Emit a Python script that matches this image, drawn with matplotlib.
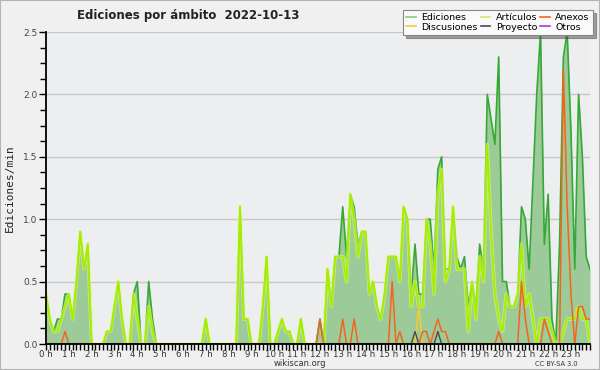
import matplotlib
matplotlib.use("Agg")
import matplotlib.pyplot as plt
from matplotlib.patches import Rectangle
from matplotlib.lines import Line2D
import numpy as np

title = "Ediciones por ámbito  2022-10-13"
ylabel = "Ediciones/min"
hour_labels = [f"{h} h" for h in range(24)]

ediciones = [0.4, 0.2, 0.1, 0.2, 0.2, 0.4, 0.4, 0.2, 0.5, 0.9, 0.6, 0.8,
             0, 0, 0, 0, 0.1, 0.1, 0.3, 0.5, 0.2, 0, 0, 0.4,
             0.5, 0, 0, 0.5, 0.2, 0, 0, 0, 0, 0, 0, 0,
             0, 0, 0, 0, 0, 0, 0.2, 0, 0, 0, 0, 0,
             0, 0, 0, 1.1, 0.2, 0.2, 0, 0, 0, 0.3, 0.7, 0,
             0, 0.1, 0.2, 0.1, 0.1, 0, 0, 0.2, 0, 0, 0, 0,
             0.2, 0, 0.6, 0.3, 0.7, 0.7, 1.1, 0.7, 1.2, 1.1, 0.8, 0.9,
             0.9, 0.4, 0.5, 0.3, 0.2, 0.4, 0.7, 0.7, 0.7, 0.5, 1.1, 1.0,
             0.4, 0.8, 0.4, 0.4, 1.0, 1.0, 0.6, 1.4, 1.5, 0.6, 0.6, 1.1,
             0.7, 0.6, 0.7, 0.3, 0.5, 0.3, 0.8, 0.6, 2.0, 1.8, 1.6, 2.3,
             0.5, 0.5, 0.3, 0.3, 0.4, 1.1, 1.0, 0.6, 1.3, 2.0, 2.5, 0.8,
             1.2, 0.2, 0, 0.8, 2.3, 2.5, 1.7, 0.6, 2.0, 1.5, 0.7, 0.6]

articulos = [0.4, 0.2, 0.1, 0.1, 0.2, 0.3, 0.4, 0.2, 0.5, 0.9, 0.6, 0.8,
             0, 0, 0, 0, 0.1, 0.1, 0.3, 0.5, 0.2, 0, 0, 0.4,
             0.2, 0, 0, 0.3, 0.1, 0, 0, 0, 0, 0, 0, 0,
             0, 0, 0, 0, 0, 0, 0.2, 0, 0, 0, 0, 0,
             0, 0, 0, 1.1, 0.2, 0.2, 0, 0, 0, 0.3, 0.7, 0,
             0, 0.1, 0.2, 0.1, 0.1, 0, 0, 0.2, 0, 0, 0, 0,
             0, 0, 0.6, 0.3, 0.7, 0.7, 0.7, 0.5, 1.2, 1.0, 0.7, 0.9,
             0.9, 0.4, 0.5, 0.3, 0.2, 0.4, 0.7, 0.7, 0.7, 0.5, 1.1, 1.0,
             0.3, 0.5, 0.3, 0.3, 1.0, 0.8, 0.4, 1.2, 1.4, 0.5, 0.6, 1.1,
             0.6, 0.6, 0.6, 0.1, 0.5, 0.2, 0.7, 0.5, 1.6, 0.9, 0.4, 0.2,
             0.1, 0.4, 0.3, 0.3, 0.4, 0.8, 0.3, 0.4, 0.2, 0, 0.2, 0.2,
             0.2, 0.1, 0, 0, 0.1, 0.2, 0.2, 0.2, 0.3, 0.2, 0.2, 0]

anexos = [0] * 144
for k, v in {5: 0.1, 72: 0.2, 78: 0.2, 81: 0.2, 91: 0.5, 93: 0.1, 99: 0.1, 100: 0.1,
             102: 0.1, 103: 0.2, 104: 0.1, 105: 0.1, 119: 0.1, 125: 0.5, 126: 0.2,
             131: 0.2, 132: 0.1, 136: 2.2, 137: 1.1, 138: 0.4, 140: 0.3, 141: 0.3,
             142: 0.2, 143: 0.2}.items():
    anexos[k] = v
discusiones = [0] * 144
discusiones[98] = 0.3
proyecto = [0] * 144
proyecto[97] = 0.1
proyecto[103] = 0.1
otros = [0] * 144

x = np.arange(len(ediciones))

fig = plt.figure(figsize=(6.0, 3.7), dpi=100, facecolor="#f0f0f0")
fig.patches.append(Rectangle((0, 0), 1, 1, transform=fig.transFigure, fill=False,
                             edgecolor="#b4b4b4", lw=1.5))
ax = fig.add_axes([46 / 600, 1 - 344 / 370, 544 / 600, 312 / 370])
ax.set_facecolor("#eceef0")

c_ed = "#35a835"
c_art = "#a8ec00"
c_anx = "#f5641e"
c_dis = "#f2cc30"
c_pro = "#4a4a4a"
c_otr = "#9b3cf0"

ax.fill_between(x, ediciones, 0, color="#9ccb99", lw=0, zorder=2)
ax.plot(x, ediciones, color=c_ed, lw=1.2, zorder=3)
ax.plot(x, articulos, color="#d8ff70", lw=2.6, alpha=0.6, zorder=4)
ax.plot(x, articulos, color=c_art, lw=1.3, zorder=4)
ax.plot(x, otros, color=c_otr, lw=1.0, zorder=4)
ax.plot(x, discusiones, color=c_dis, lw=1.1, zorder=5)
ax.plot(x, proyecto, color=c_pro, lw=1.0, zorder=5)
ax.plot(x, anexos, color=c_anx, lw=1.1, zorder=6)

ax.set_xlim(0, 143)
ax.set_ylim(0, 2.5)
ax.set_yticks(np.arange(0, 2.51, 0.5))
ax.set_yticklabels([f"{v:.1f}" for v in np.arange(0, 2.51, 0.5)])
ax.set_yticks(np.arange(0, 2.51, 0.125), minor=True)
ax.set_xticks(np.arange(0, 144, 6))
ax.set_xticklabels(hour_labels)
ax.set_xticks(np.arange(0, 144, 1), minor=True)
ax.grid(axis="y", which="major", color="#c8c8c8", lw=1.0, zorder=1)
ax.set_axisbelow(True)
for s in ("top", "right"):
    ax.spines[s].set_visible(False)
for s in ("left", "bottom"):
    ax.spines[s].set_color("black")
    ax.spines[s].set_linewidth(1.3)
    ax.spines[s].set_zorder(7)
ax.tick_params(axis="both", which="both", direction="out", color="black", width=1.0)
ax.tick_params(axis="y", which="major", length=5, labelsize=6.5, labelcolor="#444444", pad=1)
ax.tick_params(axis="y", which="minor", length=4)
ax.tick_params(axis="x", which="major", length=4, labelsize=6.2, labelcolor="#333333", pad=0)
ax.tick_params(axis="x", which="minor", length=4)

fig.text(10 / 600, 1 - 188 / 370, ylabel, rotation=90, ha="center", va="center",
         fontsize=8, family="DejaVu Sans Mono", color="#222222")
fig.text(188 / 600, 1 - 16 / 370, title, ha="center", va="center", fontsize=8.5,
         fontweight="bold", color="#222222")
fig.text(300 / 600, 1 - 364 / 370, "wikiscan.org", ha="center", va="center",
         fontsize=6, color="#333333")
fig.text(556 / 600, 1 - 364 / 370, "CC BY-SA 3.0", ha="center", va="center",
         fontsize=4.8, color="#333333")

handles = [Line2D([], [], color="#80d080", lw=1.2),
           Line2D([], [], color=c_dis, lw=1.2),
           Line2D([], [], color="#c8f060", lw=1.2),
           Line2D([], [], color=c_pro, lw=1.2),
           Line2D([], [], color=c_anx, lw=1.2),
           Line2D([], [], color=c_otr, lw=1.2)]
labels = ["Ediciones", "Discusiones", "Artículos", "Proyecto", "Anexos", "Otros"]
leg = fig.legend(handles, labels, ncol=3, loc="upper right",
                 bbox_to_anchor=(593 / 600, 1 - 10 / 370),
                 prop={"size": 6.8},
                 frameon=True, fancybox=False, shadow=True, handlelength=1.0,
                 handletextpad=0.6, columnspacing=0.3, labelspacing=0.05,
                 borderpad=0.35, borderaxespad=0)
leg.get_frame().set_facecolor("#fafafa")
leg.get_frame().set_edgecolor("#888888")
leg.get_frame().set_linewidth(0.8)
leg.set_zorder(10)

fig.savefig("out.png", dpi=100, facecolor=fig.get_facecolor())
